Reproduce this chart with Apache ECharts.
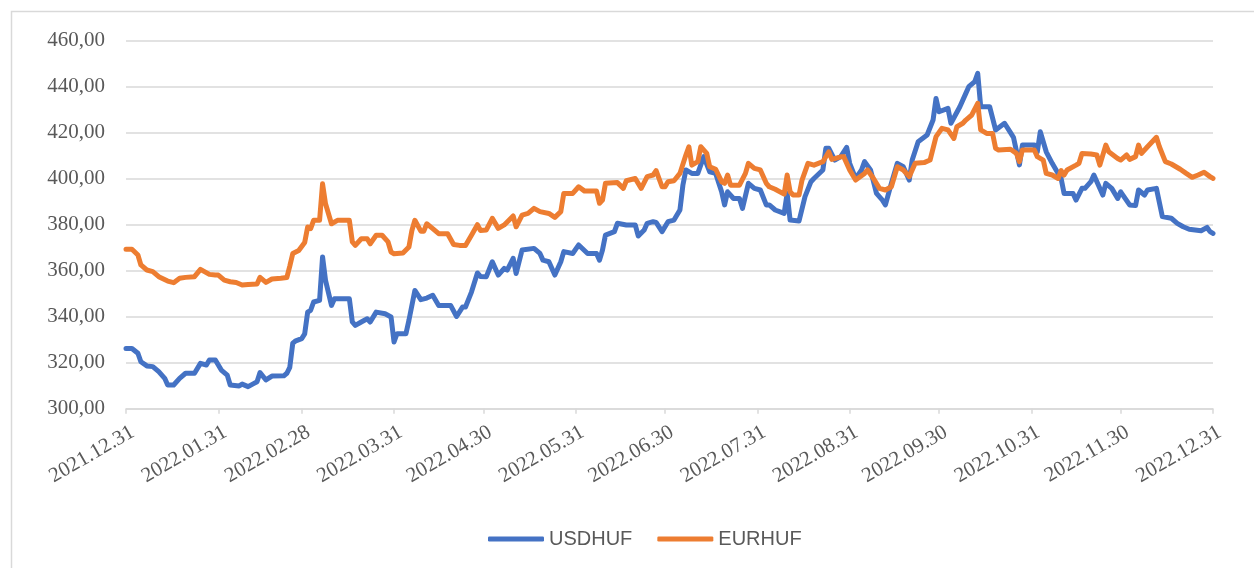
<!DOCTYPE html>
<html>
<head>
<meta charset="utf-8">
<title>USDHUF / EURHUF 2022</title>
<script src="https://cdn.jsdelivr.net/npm/echarts@6/dist/echarts.min.js"></script>
<style>
  html, body { margin: 0; padding: 0; background: #fff; }
  #chart { width: 1254px; height: 568px; }
</style>
</head>
<body>
<div id="chart"></div>
<script>
// daily axis, 2021.12.31 -> 2022.12.31
const firstDay = Date.UTC(2021, 11, 31)
const dayCount = 366

const seriesNames = ['USDHUF', 'EURHUF']
const yTicks = [300, 320, 340, 360, 380, 400, 420, 440, 460]

// [days after 2021.12.31, rate]
const usdhuf = [
  [0, 326.2], [2, 326.2], [4, 324.1], [5, 320.4], [7, 318.6], [9, 318.3], [11, 316.1], [13, 313.2], [14, 310.3], [16, 310.3],
  [18, 313.2], [20, 315.4], [23, 315.4], [25, 319.7], [27, 319], [28, 321.2], [30, 321.2], [32, 316.8], [34, 314.6], [35, 310.3],
  [38, 309.9], [39, 310.7], [41, 309.6], [43, 311], [44, 311.7], [45, 315.7], [47, 312.5], [49, 314.2], [53, 314.3], [54, 315.4],
  [55, 318], [56, 328.5], [57, 329.5], [59, 330.5], [60, 332.5], [61, 342], [62, 342.8], [63, 346.4], [65, 347.1], [66, 366],
  [67, 355.8], [69, 344.9], [70, 347.8], [75, 347.8], [76, 337.7], [77, 336.2], [79, 337.7], [81, 339.1], [82, 337.7], [84, 342],
  [87, 341.3], [89, 339.9], [90, 329], [91, 332.6], [94, 332.6], [95, 338.4], [97, 351.4], [99, 347.4], [101, 348.1], [103, 349.3],
  [105, 344.9], [109, 344.9], [111, 340.1], [113, 344.2], [114, 344.2], [116, 350.7], [118, 359], [119, 357.5], [121, 357.4], [123, 363.9],
  [125, 358.1], [127, 361], [128, 360.3], [130, 365.4], [131, 358.8], [133, 369], [137, 369.7], [139, 367.5], [140, 364.6], [142, 363.9],
  [144, 358.1], [146, 363.9], [147, 368.3], [150, 367.5], [152, 371.2], [155, 367.5], [158, 367.5], [159, 364.6], [160, 369], [161, 375.5],
  [164, 377], [165, 380.6], [168, 379.9], [171, 379.9], [172, 375.1], [174, 377.7], [175, 380.6], [177, 381.3], [178, 381], [180, 377],
  [182, 381.3], [184, 382], [186, 386.4], [187, 397.2], [188, 403.8], [190, 402.3], [192, 402.3], [194, 409.6], [196, 403], [198, 402.3],
  [200, 394.3], [201, 388.6], [202, 394.3], [204, 391.4], [206, 391.4], [207, 387.1], [209, 398], [211, 395.8], [213, 395.1], [215, 388.6],
  [216, 388.6], [218, 386.4], [221, 384.9], [222, 393.6], [223, 382], [226, 381.6], [228, 392.2], [230, 398.7], [231, 400.1], [234, 403.8],
  [235, 413.2], [236, 413.2], [238, 408.1], [240, 409.6], [242, 413.6], [243, 406.7], [245, 400.1], [247, 403.8], [248, 407.4], [250, 403.8],
  [252, 393.6], [254, 390.7], [255, 388.6], [257, 398], [259, 406.7], [261, 405.2], [263, 399.4], [264, 408.1], [266, 416.1], [269, 419],
  [271, 425.5], [272, 434.9], [273, 429.1], [276, 430.6], [277, 424.1], [280, 431.3], [282, 437.1], [283, 440], [285, 442.2], [286, 445.8],
  [287, 431.3], [290, 431.3], [292, 421.2], [295, 424.1], [297, 420], [298, 418], [300, 406], [301, 414.6], [303, 414.6], [305, 414.6],
  [306, 411.7], [307, 420.4], [309, 411.7], [311, 406.7], [313, 402.3], [314, 400.1], [315, 393.6], [318, 393.6], [319, 390.7], [321, 395.8],
  [322, 395.8], [324, 398.7], [325, 401.6], [328, 392.9], [329, 398], [331, 395.8], [333, 391.4], [334, 394.3], [337, 388.6], [339, 388.3],
  [340, 395.1], [342, 392.9], [343, 395.1], [346, 395.8], [348, 383.5], [351, 382.8], [353, 380.6], [355, 379.1], [357, 378], [361, 377.4],
  [363, 378.8], [364, 377], [365, 376.2]
]

const eurhuf = [
  [0, 369.3], [2, 369.3], [4, 366.8], [5, 362.5], [7, 360.3], [9, 359.6], [11, 357.4], [14, 355.5], [16, 354.8], [18, 356.7],
  [20, 357.1], [23, 357.4], [25, 360.6], [28, 358.4], [30, 358.1], [31, 358.1], [33, 355.9], [35, 355.2], [37, 354.9], [39, 353.8],
  [41, 354], [44, 354.2], [45, 357.1], [47, 354.9], [49, 356.4], [52, 356.7], [54, 357], [55, 362], [56, 367.5], [58, 368.8],
  [60, 372.3], [61, 379], [62, 378.3], [63, 381.9], [65, 381.9], [66, 397.8], [67, 389.1], [69, 380.4], [71, 381.9], [75, 381.9],
  [76, 372.5], [77, 371], [79, 373.9], [81, 373.9], [82, 371.7], [84, 375.4], [86, 375.4], [88, 372.5], [89, 368.1], [90, 367.4],
  [93, 367.7], [95, 370.3], [96, 377.5], [97, 381.9], [99, 377.2], [100, 377.2], [101, 380.4], [103, 378.3], [105, 376.1], [108, 376.1],
  [110, 371.4], [112, 371], [114, 371], [116, 375.4], [118, 380], [119, 377.5], [121, 377.7], [123, 382.8], [125, 378.4], [127, 379.9],
  [130, 383.8], [131, 379.1], [133, 384.2], [135, 384.9], [137, 387.1], [139, 385.7], [142, 384.9], [144, 383.2], [146, 385.7], [147, 393.6],
  [150, 393.6], [152, 396.5], [154, 394.6], [158, 394.6], [159, 389.3], [160, 390.7], [161, 398], [165, 398.3], [167, 395.8], [168, 399.1],
  [171, 400.1], [173, 395.8], [175, 400.9], [177, 401.6], [178, 403.5], [180, 396.5], [181, 396.5], [182, 398.7], [184, 399.1], [186, 402.3],
  [188, 410.3], [189, 413.9], [190, 405.9], [192, 407.4], [193, 413.9], [195, 411], [196, 405.2], [198, 404.1], [200, 398.7], [201, 398],
  [202, 401.6], [203, 397.2], [206, 397.2], [208, 402.3], [209, 406.7], [211, 404.5], [213, 403.8], [215, 398], [216, 396.5], [218, 395.4],
  [221, 393.3], [222, 401.6], [223, 394.3], [224, 392.9], [226, 392.9], [227, 399.4], [229, 406.7], [231, 405.9], [234, 407.4], [236, 411.7],
  [237, 408.4], [240, 409.5], [241, 409.6], [243, 403.8], [245, 399.4], [248, 402.3], [249, 403.8], [251, 400.1], [253, 395.8], [255, 395.1],
  [257, 396.5], [259, 405.2], [261, 403.8], [263, 400.9], [265, 406.7], [268, 407], [270, 408.1], [272, 418.3], [274, 421.9], [276, 421.2],
  [278, 417.5], [279, 422.6], [281, 424.1], [282, 425.5], [284, 427.7], [286, 432.8], [287, 421.2], [289, 419.7], [291, 419.7], [292, 413.2],
  [293, 412.5], [297, 412.8], [299, 411], [300, 407.4], [301, 412.5], [305, 412.5], [306, 409.6], [308, 408.1], [309, 402.3], [311, 401.6],
  [313, 400.1], [314, 403.5], [315, 401.6], [316, 403.8], [319, 405.9], [320, 406.7], [321, 411], [324, 410.7], [326, 410.3], [327, 405.9],
  [329, 414.6], [330, 411.7], [333, 408.8], [334, 408.1], [336, 410.3], [337, 408.4], [339, 409.6], [340, 414.6], [341, 411], [343, 413.9],
  [346, 418], [347, 413.9], [349, 407.4], [351, 406.4], [354, 404.1], [356, 402.3], [358, 400.6], [360, 401.6], [362, 402.8], [364, 400.9],
  [365, 400.1]
]

const pad = n => (n < 10 ? '0' : '') + n
const dates = []
const monthEnd = {}
for (let i = 0; i < dayCount; i++) {
  const d = new Date(firstDay + i * 86400000)
  const next = new Date(firstDay + (i + 1) * 86400000)
  const label = d.getUTCFullYear() + '.' + pad(d.getUTCMonth() + 1) + '.' + pad(d.getUTCDate())
  dates.push(label)
  if (next.getUTCDate() === 1) monthEnd[label] = true
}

const isMonthEnd = (idx, val) => !!monthEnd[val]
const greyText = '#595959'
const gridGrey = '#d9d9d9'

const chart = echarts.init(document.getElementById('chart'))
chart.setOption({
  animation: false,
  backgroundColor: '#fff',
  graphic: [{
    type: 'rect',
    shape: { x: 11.5, y: 11.5, width: 1300, height: 620 },
    style: { fill: 'none', stroke: gridGrey, lineWidth: 1.5 },
    silent: true
  }],
  grid: {
    left: 126,
    right: 41,
    top: 40.7,
    bottom: 159.3
  },
  legend: {
    data: seriesNames,
    left: 483,
    top: 524,
    icon: 'roundRect',
    itemWidth: 56,
    itemHeight: 5,
    itemGap: 25,
    textStyle: {
      fontFamily: 'Liberation Sans',
      fontSize: 20,
      color: greyText
    }
  },
  xAxis: {
    type: 'category',
    data: dates,
    boundaryGap: false,
    axisLine: { lineStyle: { color: gridGrey, width: 1.5 } },
    axisTick: {
      interval: isMonthEnd,
      length: 5,
      lineStyle: { color: gridGrey, width: 1.5 }
    },
    axisLabel: {
      interval: isMonthEnd,
      rotate: 30,
      margin: 26,
      padding: [0, -8, 0, 0],
      fontFamily: 'Liberation Serif',
      fontSize: 21,
      color: greyText
    },
    splitLine: { show: false }
  },
  yAxis: {
    type: 'value',
    min: yTicks[0],
    max: yTicks[yTicks.length - 1],
    interval: 20,
    axisLine: { show: false },
    axisTick: { show: false },
    axisLabel: {
      margin: 21,
      fontFamily: 'Liberation Serif',
      fontSize: 21,
      color: greyText,
      formatter: v => v.toFixed(2).replace('.', ',')
    },
    splitLine: { lineStyle: { color: gridGrey, width: 1.5 } }
  },
  series: [
    {
      name: seriesNames[0],
      type: 'line',
      data: usdhuf.map(p => [dates[p[0]], p[1]]),
      symbol: 'none',
      itemStyle: { color: '#4472c4' },
      lineStyle: { color: '#4472c4', width: 5, cap: 'round', join: 'round' },
      emphasis: { disabled: true }
    },
    {
      name: seriesNames[1],
      type: 'line',
      data: eurhuf.map(p => [dates[p[0]], p[1]]),
      symbol: 'none',
      itemStyle: { color: '#ed7d31' },
      lineStyle: { color: '#ed7d31', width: 5, cap: 'round', join: 'round' },
      emphasis: { disabled: true }
    }
  ]
})
</script>
</body>
</html>
